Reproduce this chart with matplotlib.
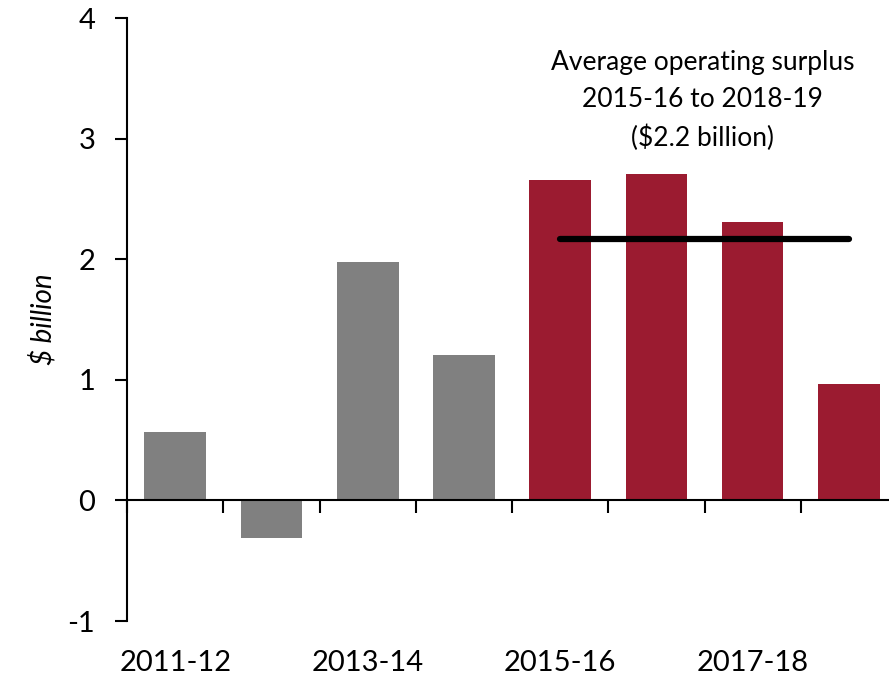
import matplotlib.pyplot as plt

plt.rcParams['font.family'] = ['Lato', 'DejaVu Sans']

# 회계연도별 운영 흑자 ($ billion)
years = ['2011-12', '2012-13', '2013-14', '2014-15',
         '2015-16', '2016-17', '2017-18', '2018-19']
surplus = [0.57, -0.31, 1.98, 1.21, 2.66, 2.71, 2.31, 0.97]
bar_colors = ['#808080'] * 4 + ['#9B1B30'] * 4
avg_surplus = 2.17
avg_label = 'Average operating surplus\n2015-16 to 2018-19\n($2.2 billion)'

fig = plt.figure(figsize=(8.89, 6.75), dpi=100)
ax = fig.add_axes([0.143, 0.08, 0.866, 0.893])

x = list(range(len(years)))
ax.bar(x, surplus, width=0.64, color=bar_colors, zorder=2)

# 평균선 (2015-16 ~ 2018-19)
ax.plot([x[4], x[7]], [avg_surplus, avg_surplus], color='black', lw=4.5,
        solid_capstyle='round', zorder=3)
ax.text(5.48, 3.32, avg_label, ha='center', va='center', fontsize=19,
        linespacing=1.6)

ax.set_xlim(-0.5, 7.5)
ax.set_ylim(-1, 4)
ax.set_yticks([-1, 0, 1, 2, 3, 4])
ax.set_yticklabels(['-1', '0', '1', '2', '3', '4'], fontsize=21)
ax.set_ylabel('$ billion', fontsize=20, style='italic', labelpad=8)

ax.spines['top'].set_visible(False)
ax.spines['right'].set_visible(False)
ax.spines['bottom'].set_position(('data', 0))
ax.spines['left'].set_linewidth(1.5)
ax.spines['bottom'].set_linewidth(1.5)

ax.set_xticks([i - 0.5 for i in range(len(years) + 1)])
ax.tick_params(axis='x', direction='out', length=9, width=1.5, labelbottom=False)
ax.tick_params(axis='y', direction='out', length=9, width=1.5, pad=14)

for i in range(0, len(years), 2):
    ax.text(i, -0.07, years[i], transform=ax.get_xaxis_transform(),
            ha='center', va='center', fontsize=21)

fig.savefig('out.png', dpi=100)
